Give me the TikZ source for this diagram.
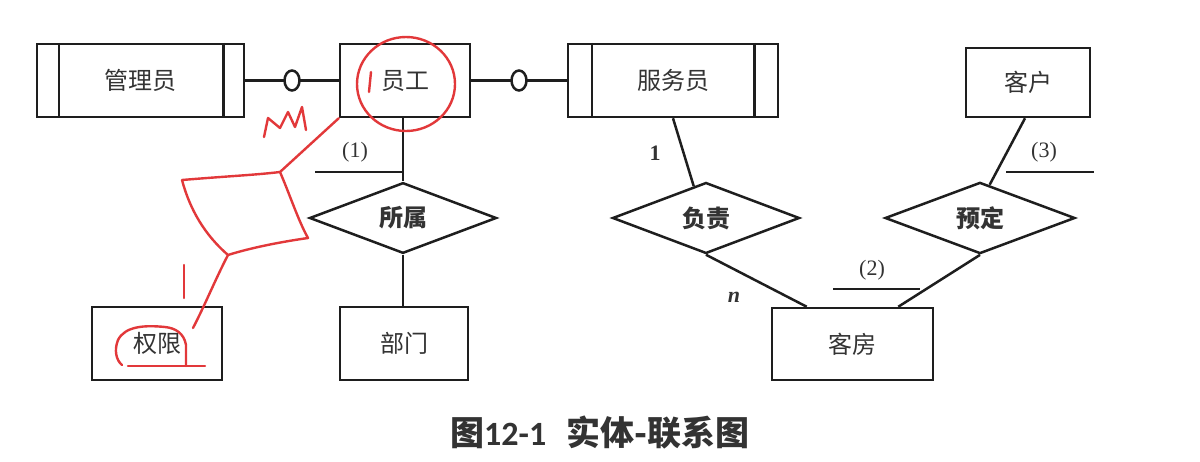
\documentclass[tikz,border=0pt]{standalone}
\usepackage{fontspec}
\usetikzlibrary{shapes.geometric,calc}
\setmainfont{Liberation Serif}
\newfontfamily\cjk{Noto Sans CJK SC}
\newfontfamily\capnum{Carlito}
\definecolor{linec}{HTML}{1E1E1E}
\definecolor{txtc}{HTML}{333333}
\definecolor{redc}{HTML}{E2383A}
\begin{document}
\begin{tikzpicture}[x=0.5pt,y=-0.5pt,
  ln/.style={draw=linec, line width=1.25pt},
  ent/.style={ln, rectangle, inner sep=0pt, font=\cjk\fontsize{12}{13}\selectfont, text=txtc},
  rel/.style={ln, diamond, inner sep=0pt, minimum width=93.5pt, minimum height=35pt, font=\cjk\bfseries\fontsize{12}{13}\selectfont, text=txtc},
  lbl/.style={font=\fontsize{11}{12}\selectfont, text=txtc, inner sep=0pt},
  opt/.style={ln, ellipse, fill=white, minimum width=7.5pt, minimum height=10pt, inner sep=0pt},
  pen/.style={draw=redc, line width=1.2pt, line cap=round, line join=round}
]
\fill[white] (0,0) rectangle (1200,461);
\useasboundingbox (0,0) rectangle (1200,461);

% entities
\node[ent, minimum width=103.5pt, minimum height=36.5pt] (gly) at (140.5,80.5) {管理员};
\node[ent, minimum width=65pt, minimum height=36.5pt] (yg) at (405,80.5) {员工};
\node[ent, minimum width=105pt, minimum height=36.5pt] (fwy) at (673,80.5) {服务员};
\node[ent, minimum width=62pt, minimum height=34.5pt] (kh) at (1028,82.5) {客户};
\node[ent, minimum width=65pt, minimum height=36.5pt] (qx) at (157,343.5) {权限};
\node[ent, minimum width=64pt, minimum height=36.5pt] (bm) at (404,343.5) {部门};
\node[ent, minimum width=80.5pt, minimum height=36pt] (kf) at (852.5,344) {客房};

% double bars
\draw[ln] ([xshift=11.5pt]gly.north west) -- ([xshift=11.5pt]gly.south west);
\draw[ln] ([xshift=-11pt]gly.north east) -- ([xshift=-11pt]gly.south east);
\draw[ln] ([xshift=12.5pt]fwy.north west) -- ([xshift=12.5pt]fwy.south west);
\draw[ln] ([xshift=-12.5pt]fwy.north east) -- ([xshift=-12.5pt]fwy.south east);

% relationships
\node[rel] (ss) at (403,218) {所属};
\node[rel] (fz) at (706,218) {负责};
\node[rel, minimum width=95pt] (yd) at (980,218) {预定};

% connectors
\draw[ln] (gly.east) -- (yg.west);
\node[opt] (o1) at ($(gly.east)!0.5!(yg.west)$) {};
\draw[ln] (yg.east) -- (fwy.west);
\node[opt] (o2) at ($(yg.east)!0.5!(fwy.west)$) {};

\draw[ln] (yg.south -| ss.north) -- (ss.north);
\draw[ln] (ss.south) -- (bm.north -| ss.south);
\draw[ln] (fwy.south) -- ($(fz.north)!0.13!(fz.west)$);
\draw[ln] (fz.south) -- ($(kf.north west)!0.22!(kf.north east)$);
\draw[ln] (yd.south) -- ($(kf.north west)!0.78!(kf.north east)$);
\draw[ln] ([xshift=-1.5pt]kh.south) -- ($(yd.north)!0.1!(yd.east)$);

% blanks and labels
\coordinate (u1a) at (315,172);
\coordinate (u1b) at (403,172);
\draw[ln] (u1a) -- (u1b);
\node[lbl] (l1) at (355,152) {(1)};
\coordinate (u2a) at (833,289);
\coordinate (u2b) at (920,289);
\draw[ln] (u2a) -- (u2b);
\node[lbl] (l2) at (872,270) {(2)};
\coordinate (u3a) at (1006,172);
\coordinate (u3b) at (1094,172);
\draw[ln] (u3a) -- (u3b);
\node[lbl] (l3) at (1044,152) {(3)};
\node[lbl, font=\bfseries\fontsize{11}{12}\selectfont] (one) at (655,153) {1};
\node[lbl, font=\bfseries\itshape\fontsize{11}{12}\selectfont] (nn) at (734,297) {n};

% caption
\node[inner sep=0pt, text=txtc, font=\fontsize{17}{19}\selectfont] (cap) at (600,433)
  {{\cjk\bfseries 图}{\capnum\bfseries 12-1}\hspace{0.6em}{\cjk\bfseries 实体-联系图}};

% red annotations
\draw[pen] (406,84) ellipse [x radius=24.5pt, y radius=23.5pt];
\draw[pen] (371,72) -- (369,92);
\draw[pen] (264,137) -- (268,118) -- (280,128) -- (288,112) -- (295,127) -- (302,107) -- (306,130);
\draw[pen] (yg.south west) -- (280,172);
\draw[pen] (182,180) .. controls (230,176) and (255,175) .. (280,172)
  .. controls (290,195) and (298,220) .. (308,238)
  .. controls (280,242) and (250,248) .. (228,255)
  .. controls (205,235) and (190,210) .. (182,180);
\draw[pen] (228,255) .. controls (215,280) and (205,305) .. (193,328);
\draw[pen] (184,265) -- (184,298);
\draw[pen] (186,366) -- (186,345) .. controls (184,333) and (175,328) .. (165,327)
  .. controls (145,325) and (125,326) .. (118,340) .. controls (114,350) and (116,360) .. (122,365);
\draw[pen] (128,366) -- (205,366);
\end{tikzpicture}
\end{document}
